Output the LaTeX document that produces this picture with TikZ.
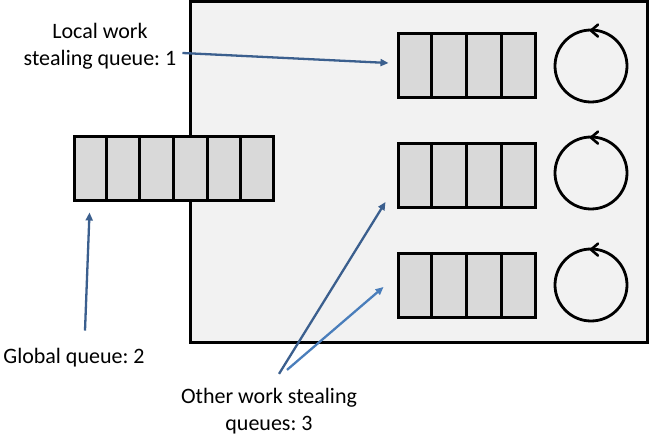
\documentclass[tikz,border=0pt]{standalone}
\usepackage{fontspec}
\setmainfont{Carlito}
\usetikzlibrary{arrows.meta,calc,positioning}
\definecolor{boxfill}{HTML}{F2F2F2}
\definecolor{cellfill}{HTML}{D9D9D9}
\definecolor{pointer}{HTML}{3B5F8E}
\definecolor{pointerlight}{HTML}{4A7EBB}
\tikzset{
  frame/.style={draw=black, line width=3pt, fill=boxfill, inner sep=0pt},
  queue/.style={draw=black, line width=3pt, fill=cellfill, minimum height=64pt, inner sep=0pt},
  divider/.style={draw=black, line width=3pt},
  worker/.style={circle, draw=black, line width=2.8pt, minimum size=72pt, inner sep=0pt},
  turn/.style={draw=black, line width=2.6pt, line cap=round, line join=miter},
  pointer/.style={draw=pointer, line width=2.3pt, -{Triangle[length=8pt,width=7pt]}},
  caption/.style={font=\fontsize{22}{27}\selectfont, align=center, inner sep=0pt}
}
\newcommand{\queuecells}[2]{%
  \foreach \k [evaluate=\k as \f using \k/(#2+1)] in {1,...,#2}
    \draw[divider] ($(#1.north west)!\f!(#1.north east)$) -- ($(#1.south west)!\f!(#1.south east)$);
}
\newcommand{\turnmark}[1]{%
  \draw[turn] ([xshift=7pt,yshift=4pt]#1.north) -- ([yshift=-2pt]#1.north) -- ([xshift=7pt,yshift=-8pt]#1.north);
}
\frenchspacing
\begin{document}
\begin{tikzpicture}[x=1pt,y=-1pt]
\path[use as bounding box] (0,0) rectangle (650,435);
\fill[white] (0,0) rectangle (650,435);

\node[frame, minimum width=457pt, minimum height=340pt] (pool) at (418.5,172) {};

% per-thread queues and workers
\node[queue, minimum width=137pt] (local) at (466.5,66) {};
\node[queue, minimum width=137pt] (q2) at (466.5,175.5) {};
\node[queue, minimum width=137pt] (q3) at (466.5,285.5) {};
\queuecells{local}{3}
\queuecells{q2}{3}
\queuecells{q3}{3}
\node[worker] (w1) at (591,66) {};
\node[worker] (w2) at (591,173) {};
\node[worker] (w3) at (591,285) {};
\turnmark{w1}
\turnmark{w2}
\turnmark{w3}

% global queue
\node[queue, minimum width=199pt] (global) at (173.5,169) {};
\queuecells{global}{5}

\node[caption] (lblLocal) at (100,46) {Local work\\stealing queue: 1};
\node[caption, anchor=base] (lblGlobal) at (74,363) {Global queue: 2};
\node[caption] (lblOther) at (269,411) {Other work stealing\\queues: 3};

\draw[pointer] ([xshift=6pt,yshift=-7pt]lblLocal.east) -- ([xshift=-8pt,yshift=3pt]local.west);
\draw[pointer] ([xshift=11pt,yshift=17pt]lblGlobal.north) -- ([xshift=17pt,yshift=-10pt]global.south west);
\draw[pointer] ([xshift=10pt,yshift=14pt]lblOther.north) -- ([xshift=-11pt,yshift=7pt]q2.south west);
\draw[pointer, draw=pointerlight] ([xshift=18pt,yshift=18pt]lblOther.north) -- ([xshift=-13pt,yshift=-1.5pt]q3.west);
\end{tikzpicture}
\end{document}
